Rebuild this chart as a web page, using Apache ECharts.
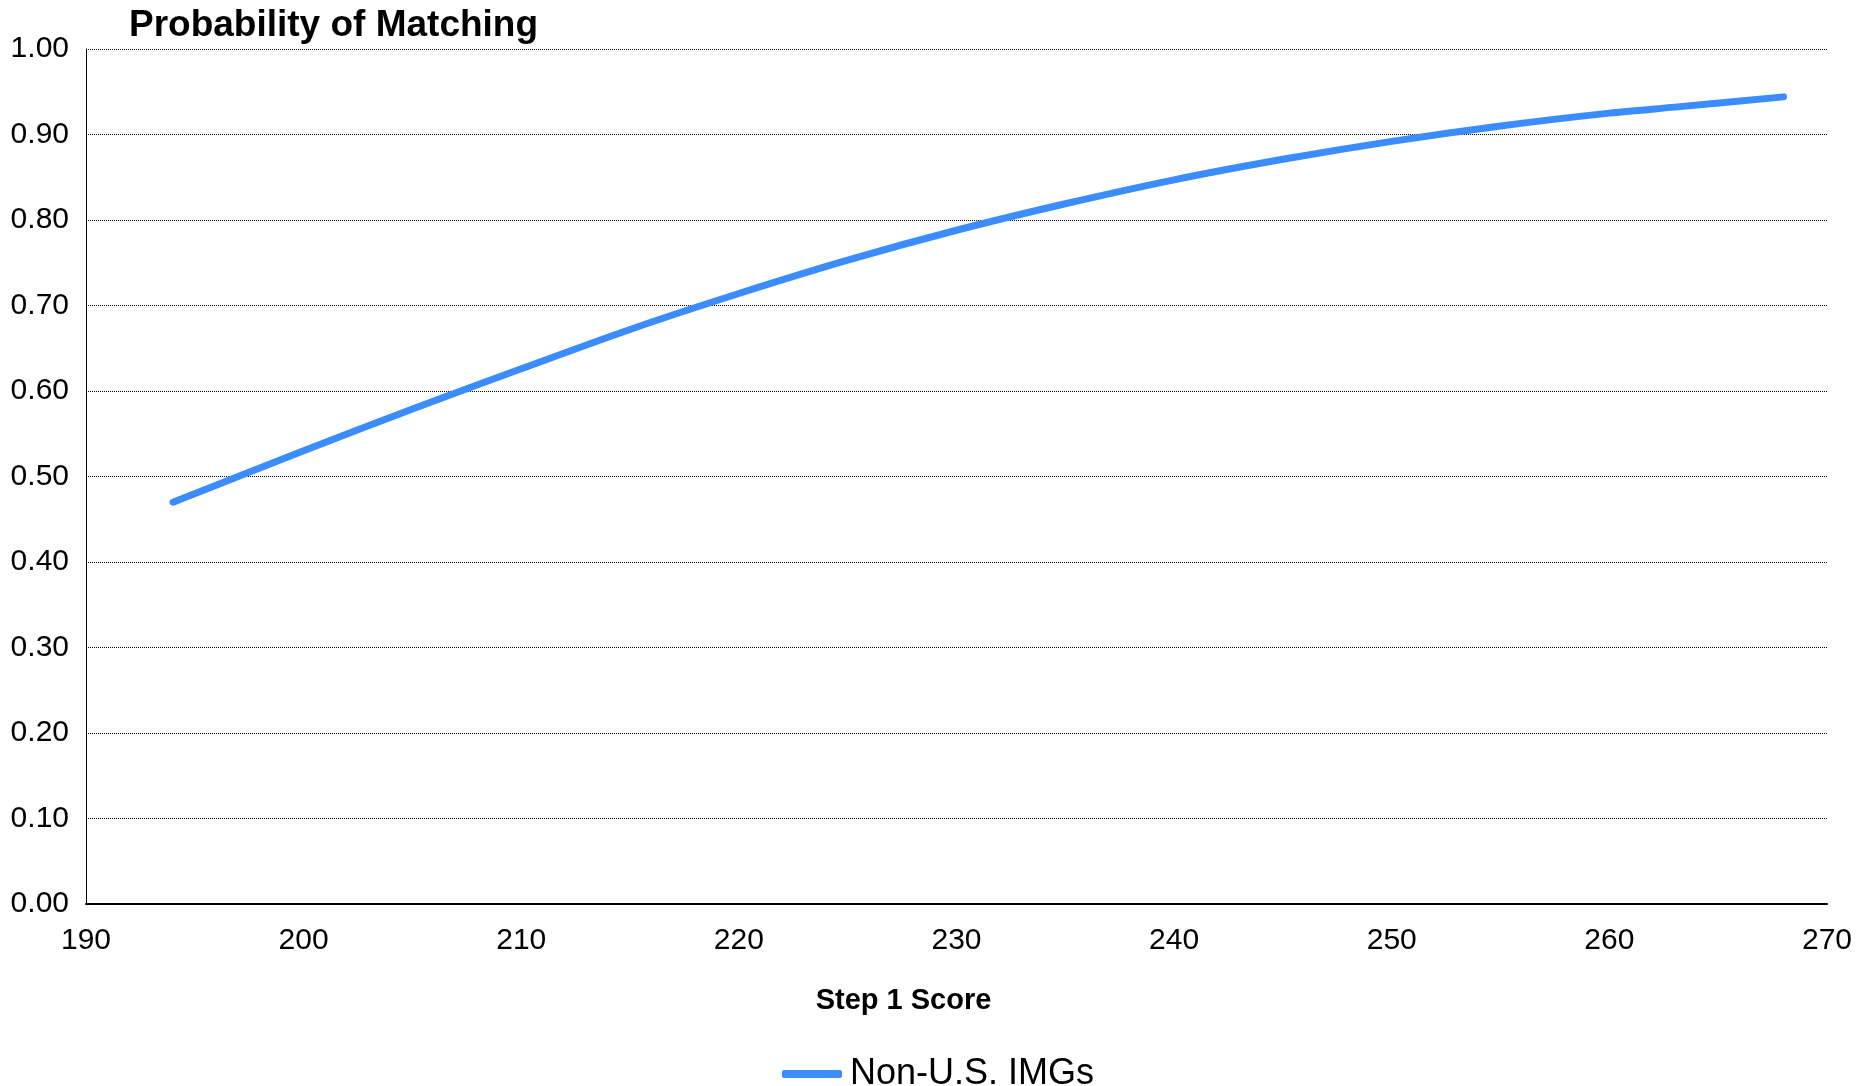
<!DOCTYPE html>
<html>
<head>
<meta charset="utf-8">
<script src="https://cdn.jsdelivr.net/npm/echarts@6/dist/echarts.min.js"></script>
<style>
html,body{margin:0;padding:0;background:#fff;}
#chart{width:1874px;height:1086px;}
</style>
</head>
<body>
<div id="chart"></div>
<script>
// Data
const scores = [194, 200, 205, 210, 215, 220, 225, 230, 235, 240, 245, 250, 255, 260, 263, 268];
const probNonUSIMG = [0.470, 0.530, 0.579, 0.626, 0.672, 0.714, 0.753, 0.788, 0.819, 0.847, 0.871, 0.892, 0.910, 0.925, 0.932, 0.944];
const seriesName = 'Non-U.S. IMGs';
const chartTitle = 'Probability of Matching';
const xAxisTitle = 'Step 1 Score';

const points = scores.map((s, i) => [s, probNonUSIMG[i]]);
const FONT = "'Liberation Sans', Arial, Helvetica, sans-serif";

const chart = echarts.init(document.getElementById('chart'), null, {renderer: 'canvas'});
chart.setOption({
  backgroundColor: '#ffffff',
  animation: false,
  title: {
    text: chartTitle,
    left: 124,
    top: 2,
    textStyle: {fontFamily: FONT, fontSize: 37, fontWeight: 'bold', color: '#000'}
  },
  legend: {
    data: [seriesName],
    left: 777,
    top: 1051,
    icon: 'roundRect',
    itemWidth: 60,
    itemHeight: 8,
    textStyle: {fontFamily: FONT, fontSize: 36, color: '#000', padding: [0, 0, 0, 3]}
  },
  grid: {left: 86, right: 47, top: 49, bottom: 182, containLabel: false},
  xAxis: {
    type: 'value',
    min: 190, max: 270, interval: 10,
    name: xAxisTitle,
    nameLocation: 'middle',
    nameGap: 82,
    nameTextStyle: {fontFamily: FONT, fontSize: 29, fontWeight: 'bold', color: '#000', padding: [0, 106, 0, 0]},
    axisLine: {show: true, lineStyle: {color: '#000', width: 2}},
    axisTick: {show: false},
    splitLine: {show: false},
    axisLabel: {margin: 22, fontFamily: FONT, fontSize: 30, color: '#000'}
  },
  yAxis: {
    type: 'value',
    min: 0, max: 1, interval: 0.1,
    axisLine: {show: true, lineStyle: {color: '#000', width: 1}},
    axisTick: {show: false},
    splitLine: {show: true, lineStyle: {color: '#000', width: 1, type: [1, 1]}},
    axisLabel: {margin: 17, fontFamily: FONT, fontSize: 30, color: '#000',
      formatter: v => v.toFixed(2)}
  },
  series: [{
    name: seriesName,
    type: 'line',
    data: points,
    smooth: 0.3,
    showSymbol: false,
    symbol: 'none',
    itemStyle: {color: '#3a8cff'},
    lineStyle: {color: '#3a8cff', width: 7, cap: 'round', join: 'round'}
  }]
});
</script>
</body>
</html>
